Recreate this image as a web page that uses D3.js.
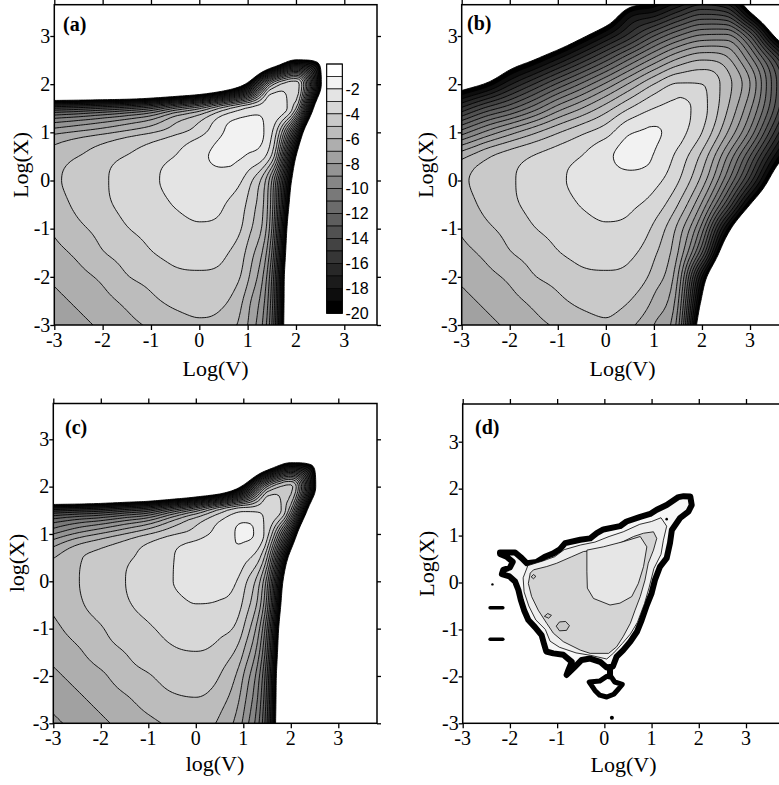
<!DOCTYPE html>
<html>
<head>
<meta charset="utf-8">
<script src="https://cdn.jsdelivr.net/npm/d3@7"></script>
<style>
  body { margin: 0; background: #fff; }
  svg { display: block; }
</style>
</head>
<body>
<svg id="fig" width="779" height="785"></svg>
<script>
// grid nodes (log units), shared by panels a, b, c
const gridNodes = d3.range(-3, 4.01, 0.5);   // -3 .. 4, step 0.5
const levels = d3.range(-20, 0);              // contour levels -20 .. -1
const barTicks = [-2, -4, -6, -8, -10, -12, -14, -16, -18, -20];
const axisTicks = [-3, -2, -1, 0, 1, 2, 3];

// log-density, rows go from log(X) = -3 (first) up to 4 (last),
// columns from log(V) = -3 to 4
const fieldA = [
  [-7.8, -7.3, -6.8, -6.3, -5.85, -5.42, -5.15, -5.45, -7.0, -12, -29, -40, -40, -40, -40],
  [-7.3, -6.8, -6.3, -5.78, -5.2, -4.78, -4.65, -4.85, -6.6, -11.5, -29, -40, -40, -40, -40],
  [-6.8, -6.3, -5.8, -5.06, -4.68, -4.22, -4.14, -4.3, -5.8, -11, -29, -40, -40, -40, -40],
  [-6.3, -5.78, -5.06, -4.6, -4.05, -3.72, -3.62, -3.85, -5.3, -10, -28, -40, -40, -40, -40],
  [-5.85, -5.2, -4.68, -4.05, -3.7, -3.35, -3.13, -3.3, -4.6, -9.0, -27, -40, -40, -40, -40],
  [-5.42, -4.78, -4.22, -3.72, -3.35, -2.95, -2.7, -2.95, -4.2, -8.5, -25, -40, -40, -40, -40],
  [-5.15, -4.65, -4.13, -3.62, -3.15, -2.75, -2.4, -2.5, -3.5, -8.0, -23, -40, -40, -40, -40],
  [-5.55, -5.0, -4.45, -3.95, -3.45, -2.98, -2.25, -1.75, -2.1, -4.2, -20, -38, -40, -40, -40],
  [-7.3, -6.8, -6.3, -5.7, -5.1, -4.3, -3.4, -2.0, -1.6, -2.9, -14, -35, -40, -40, -40],
  [-14, -13.6, -13, -12.3, -11.2, -9.0, -7.2, -4.6, -2.9, -2.3, -5.0, -26, -40, -40, -40],
  [-34, -34, -34, -34, -33, -32, -30, -26, -19, -5.5, -3.5, -19, -40, -40, -40],
  [-40, -40, -40, -40, -40, -40, -38, -36, -34, -27, -19.8, -21.5, -40, -40, -40],
  [-40, -40, -40, -40, -40, -40, -40, -40, -40, -40, -40, -40, -40, -40, -40],
  [-40, -40, -40, -40, -40, -40, -40, -40, -40, -40, -40, -40, -40, -40, -40],
  [-40, -40, -40, -40, -40, -40, -40, -40, -40, -40, -40, -40, -40, -40, -40]
];

const fieldB = [
  [-7.8, -7.3, -6.8, -6.3, -5.85, -5.42, -5.15, -5.8, -7.0, -9.6, -23, -33, -38, -40, -40],
  [-7.3, -6.8, -6.3, -5.78, -5.2, -4.78, -4.65, -5.0, -6.2, -8.8, -20.5, -30, -34, -38, -40],
  [-6.8, -6.3, -5.8, -5.06, -4.68, -4.22, -4.14, -4.35, -5.4, -8.0, -18, -27, -30, -35, -38],
  [-6.3, -5.78, -5.06, -4.6, -4.05, -3.72, -3.62, -3.8, -4.8, -7.0, -13, -22.5, -27, -31, -35],
  [-5.85, -5.2, -4.68, -4.05, -3.7, -3.35, -3.13, -3.25, -4.2, -6.3, -10.5, -18.5, -25, -28, -32],
  [-5.42, -4.78, -4.22, -3.72, -3.35, -2.95, -2.7, -2.85, -3.4, -5.0, -8.2, -13.5, -20, -25, -30],
  [-5.15, -4.65, -4.13, -3.62, -3.15, -2.75, -2.4, -2.4, -2.7, -3.9, -6.4, -10.5, -15.5, -21.5, -28],
  [-6.3, -5.2, -4.5, -3.95, -3.45, -2.98, -2.25, -1.6, -2.05, -3.3, -5.3, -8.8, -13, -18, -23],
  [-10.5, -8.8, -7.4, -6.2, -5.1, -4.2, -3.4, -2.1, -1.9, -2.6, -4.0, -6.8, -10.3, -15, -20],
  [-15.8, -13.8, -12.3, -10.5, -8.5, -7.0, -5.5, -4.0, -3.0, -2.7, -3.6, -5.8, -8.8, -13, -18],
  [-21.5, -19.8, -17.2, -15, -12.8, -10.8, -8.8, -6.8, -5.0, -3.9, -4.0, -5.5, -8.0, -12.5, -17],
  [-27, -25, -22, -20, -17.8, -15.5, -13.2, -10.8, -8.6, -6.8, -6.0, -6.6, -9.5, -14, -19.5],
  [-32, -30, -27.5, -25, -23, -20.5, -18, -15.5, -13, -11, -9.8, -9.7, -13, -20, -26],
  [-37, -35, -32.5, -30, -28, -25.5, -23, -19, -18, -16, -14.5, -15, -20, -26, -32],
  [-40, -40, -37.5, -35, -33, -30.5, -28, -25.5, -23, -21, -19.5, -21, -25, -31, -37]
];

const fieldC = [
  [-8.2, -7.7, -7.2, -6.7, -6.25, -5.82, -5.55, -6.2, -8.2, -14, -32, -40, -40, -40, -40],
  [-7.7, -7.2, -6.7, -6.18, -5.6, -5.18, -5.05, -5.6, -7.6, -13.5, -32, -40, -40, -40, -40],
  [-7.2, -6.7, -6.2, -5.46, -5.08, -4.62, -4.54, -5.0, -7.0, -13, -32, -40, -40, -40, -40],
  [-6.7, -6.18, -5.46, -5.0, -4.45, -4.12, -4.02, -4.4, -6.0, -12, -31, -40, -40, -40, -40],
  [-6.25, -5.6, -5.08, -4.45, -4.1, -3.75, -3.53, -3.7, -5.0, -11, -30, -40, -40, -40, -40],
  [-5.82, -5.18, -4.62, -4.12, -3.75, -3.3, -3.02, -3.1, -4.2, -9.5, -28, -40, -40, -40, -40],
  [-5.55, -5.05, -4.53, -4.02, -3.55, -3.02, -2.7, -2.65, -3.6, -8.5, -26, -40, -40, -40, -40],
  [-6.05, -5.15, -4.65, -4.2, -3.65, -3.05, -2.55, -2.02, -2.6, -6.0, -22, -38, -40, -40, -40],
  [-9.0, -7.8, -6.9, -6.0, -5.05, -4.15, -3.5, -2.6, -1.85, -3.6, -15, -35, -40, -40, -40],
  [-15.5, -15, -14.5, -13.5, -12.5, -10, -7.5, -4.7, -3.2, -3.2, -7.0, -26, -40, -40, -40],
  [-36, -36, -35, -34, -33, -32, -30, -27, -19, -7.0, -4.8, -19, -40, -40, -40],
  [-40, -40, -40, -40, -40, -40, -38, -36, -34, -26, -19.8, -21.5, -40, -40, -40],
  [-40, -40, -40, -40, -40, -40, -40, -40, -40, -40, -40, -40, -40, -40, -40],
  [-40, -40, -40, -40, -40, -40, -40, -40, -40, -40, -40, -40, -40, -40, -40],
  [-40, -40, -40, -40, -40, -40, -40, -40, -40, -40, -40, -40, -40, -40, -40]
];

// panel d: measured histogram, traced as outlines [log(V), log(X)]
const dOutline = [[-2.21,0.64],[-1.89,0.64],[-1.75,0.52],[-1.64,0.41],[-1.43,0.44],[-1.26,0.55],[-1.08,0.62],[-0.94,0.71],[-0.83,0.84],[-0.51,0.91],[-0.30,0.94],[-0.16,1.05],[-0.02,1.13],[0.33,1.20],[0.47,1.30],[0.76,1.40],[0.97,1.46],[1.11,1.55],[1.32,1.65],[1.57,1.82],[1.68,1.84],[1.82,1.83],[1.85,1.65],[1.78,1.51],[1.60,1.37],[1.43,1.12],[1.39,0.84],[1.32,0.52],[1.18,0.34],[1.07,0.05],[1.00,-0.23],[0.90,-0.48],[0.79,-0.80],[0.69,-1.05],[0.55,-1.26],[0.40,-1.44],[0.26,-1.58],[0.18,-1.79],[0.05,-1.81],[-0.09,-1.69],[-0.30,-1.62],[-0.48,-1.65],[-0.62,-1.79],[-0.80,-1.97],[-0.76,-1.86],[-0.69,-1.69],[-0.87,-1.54],[-1.08,-1.51],[-1.23,-1.47],[-1.28,-1.30],[-1.33,-1.12],[-1.47,-0.95],[-1.61,-0.80],[-1.70,-0.59],[-1.77,-0.37],[-1.82,-0.16],[-1.89,0.02],[-2.01,0.13],[-2.17,0.18],[-2.14,0.27],[-2.00,0.32],[-1.94,0.44],[-2.07,0.55],[-2.21,0.61]];
const dMid = [[-1.62,0.36],[-1.3,0.46],[-1.05,0.55],[-0.85,0.7],[-0.5,0.8],[-0.2,0.86],[0.1,0.98],[0.4,1.08],[0.75,1.24],[1.0,1.3],[1.2,1.38],[1.32,1.2],[1.25,0.9],[1.2,0.6],[1.05,0.3],[0.95,-0.1],[0.85,-0.45],[0.7,-0.85],[0.55,-1.1],[0.38,-1.3],[0.2,-1.5],[0.05,-1.63],[-0.3,-1.55],[-0.6,-1.5],[-0.95,-1.38],[-1.15,-1.25],[-1.25,-1.0],[-1.45,-0.8],[-1.6,-0.5],[-1.7,-0.2],[-1.72,0.1]];
const dGrey = [[-1.50,0.27],[-1.22,0.34],[-1.01,0.41],[-0.69,0.55],[-0.44,0.66],[-0.16,0.69],[0.12,0.76],[0.33,0.84],[0.62,0.98],[0.83,1.05],[1.04,1.08],[1.11,0.94],[1.04,0.69],[0.93,0.41],[0.86,0.05],[0.76,-0.30],[0.65,-0.59],[0.55,-0.87],[0.40,-1.15],[0.26,-1.37],[0.09,-1.51],[-0.30,-1.51],[-0.51,-1.44],[-0.87,-1.26],[-1.08,-1.08],[-1.22,-0.87],[-1.40,-0.59],[-1.54,-0.30],[-1.61,-0.02],[-1.57,0.20]];
const dLight = [[-0.37,0.69],[-0.02,0.76],[0.40,0.87],[0.76,0.98],[0.90,0.76],[0.83,0.34],[0.72,-0.02],[0.58,-0.30],[0.33,-0.44],[0.12,-0.48],[-0.23,-0.34],[-0.36,-0.12],[-0.37,0.23]];
const dIslands = [
  [[-1.02,-0.93],[-0.95,-0.84],[-0.82,-0.83],[-0.74,-0.92],[-0.8,-1.02],[-0.95,-1.03]],
  [[-1.27,-0.72],[-1.2,-0.66],[-1.12,-0.7],[-1.18,-0.76]],
  [[-1.55,0.12],[-1.5,0.17],[-1.45,0.13],[-1.5,0.08]]
];
const dRing = [[-0.32,-2.12],[-0.1,-2.1],[0.05,-2.0],[0.15,-2.02],[0.22,-2.12],[0.38,-2.17],[0.3,-2.27],[0.2,-2.38],[0.05,-2.44],[-0.1,-2.4],[-0.2,-2.3]];
const dStalk = [[0.12,-1.82],[0.12,-2.05]];
const dDashes = [
  [[-2.42,-0.54],[-2.15,-0.54]],
  [[-2.42,-1.21],[-2.15,-1.21]]
];
const dDots = [[-2.37,-0.04,1.2],[0.16,-2.88,2],[1.32,1.35,1.3]];

const svg = d3.select("#fig");
const serif = "Liberation Serif";

function grey(t) {
  const k = -t - 1;
  const g = Math.round(255 * (1 - k / 19));
  return `rgb(${g},${g},${g})`;
}

// monotone cubic resampling (Fritsch-Carlson) of one row of nodes
function monoCubic(ys, n) {
  const m = ys.length, d = [], s = new Array(m);
  for (let i = 0; i < m - 1; i++) d.push(ys[i + 1] - ys[i]);
  s[0] = d[0];
  s[m - 1] = d[m - 2];
  for (let i = 1; i < m - 1; i++) s[i] = d[i - 1] * d[i] <= 0 ? 0 : (d[i - 1] + d[i]) / 2;
  for (let i = 0; i < m - 1; i++) {
    if (d[i] === 0) { s[i] = 0; s[i + 1] = 0; continue; }
    const a = s[i] / d[i], b = s[i + 1] / d[i], r = a * a + b * b;
    if (r > 9) {
      const tau = 3 / Math.sqrt(r);
      s[i] = tau * a * d[i];
      s[i + 1] = tau * b * d[i];
    }
  }
  const out = [];
  for (let i = 0; i < m - 1; i++) {
    for (let k = 0; k < n; k++) {
      const t = k / n, t2 = t * t, t3 = t2 * t;
      out.push((2 * t3 - 3 * t2 + 1) * ys[i] + (t3 - 2 * t2 + t) * s[i] +
               (-2 * t3 + 3 * t2) * ys[i + 1] + (t3 - t2) * s[i + 1]);
    }
  }
  out.push(ys[m - 1]);
  return out;
}

function upsample(field, n) {
  const rows = field.map(r => monoCubic(r, n));
  const nx = rows[0].length;
  const cols = d3.range(nx).map(i => monoCubic(rows.map(r => r[i]), n));
  const ny = cols[0].length;
  const values = new Array(nx * ny);
  for (let j = 0; j < ny; j++)
    for (let i = 0; i < nx; i++) values[i + j * nx] = cols[i][j];
  return { nx, ny, values };
}

function panel(cfg) {
  const x = d3.scaleLinear().domain([-3, 3]).range(cfg.xr);
  const y = d3.scaleLinear().domain([-3, 3]).range(cfg.yr);
  const left = cfg.xr[0], bottom = cfg.yr[0], right = cfg.right, top = cfg.top;

  svg.append("clipPath").attr("id", "clip-" + cfg.id)
    .append("rect").attr("x", left).attr("y", top)
    .attr("width", right - left).attr("height", bottom - top);

  const g = svg.append("g");
  const body = g.append("g").attr("clip-path", `url(#clip-${cfg.id})`);

  if (cfg.field) {
    const n = 10, step = (gridNodes[1] - gridNodes[0]) / n;
    const up = upsample(cfg.field, n);
    const proj = d3.geoTransform({
      point(px, py) {
        this.stream.point(x(gridNodes[0] + (px - 0.5) * step), y(gridNodes[0] + (py - 0.5) * step));
      }
    });
    const path = d3.geoPath(proj);
    const cs = d3.contours().size([up.nx, up.ny]).thresholds(levels)(up.values);
    body.selectAll("path.band").data(cs).join("path")
      .attr("class", "band")
      .attr("d", path)
      .attr("fill", d => grey(d.value))
      .attr("stroke", "#000")
      .attr("stroke-width", 0.9);
  }

  if (cfg.drawExtra) cfg.drawExtra(body, x, y);

  // frame
  g.append("rect").attr("x", left).attr("y", top)
    .attr("width", right - left).attr("height", bottom - top)
    .attr("fill", "none").attr("stroke", "#000").attr("stroke-width", 1.5);

  // tick marks from d3 axes, labels written separately below
  const styleAxis = sel => {
    sel.select(".domain").remove();
    sel.selectAll(".tick line").attr("stroke", "#000").attr("stroke-width", 1.3);
    sel.selectAll(".tick text").remove();
  };
  g.append("g").attr("transform", `translate(0,${bottom})`)
    .call(d3.axisBottom(x).tickValues(axisTicks).tickSize(5).tickSizeOuter(0)).call(styleAxis);
  g.append("g").attr("transform", `translate(0,${top})`)
    .call(d3.axisTop(x).tickValues(axisTicks).tickSize(5).tickSizeOuter(0)).call(styleAxis);
  g.append("g").attr("transform", `translate(${left},0)`)
    .call(d3.axisLeft(y).tickValues(axisTicks).tickSize(4).tickSizeOuter(0)).call(styleAxis);
  g.append("g").attr("transform", `translate(${right},0)`)
    .call(d3.axisRight(y).tickValues(axisTicks).tickSize(4).tickSizeOuter(0)).call(styleAxis);

  g.append("g").selectAll("text").data(axisTicks).join("text")
    .attr("x", d => x(d)).attr("y", bottom + 22)
    .attr("text-anchor", "middle")
    .attr("font-family", serif).attr("font-size", 20).attr("fill", "#000")
    .text(d => String(d));
  g.append("g").selectAll("text").data(axisTicks).join("text")
    .attr("x", left - 4).attr("y", d => y(d) + 6.8)
    .attr("text-anchor", "end")
    .attr("font-family", serif).attr("font-size", 20).attr("fill", "#000")
    .text(d => String(d));

  // titles
  g.append("text").attr("x", cfg.xTitle[0]).attr("y", cfg.xTitle[1])
    .attr("text-anchor", "middle").attr("font-family", serif).attr("font-size", 22)
    .text(cfg.xLabel);
  g.append("text").attr("transform", `translate(${cfg.yTitle[0]},${cfg.yTitle[1]}) rotate(-90)`)
    .attr("text-anchor", "middle").attr("font-family", serif).attr("font-size", 22)
    .text(cfg.yLabel);
  g.append("text").attr("x", cfg.tag[0]).attr("y", cfg.tag[1])
    .attr("font-family", serif).attr("font-size", 20).attr("font-weight", "bold")
    .text(cfg.tagText);

  return g;
}

// ---- panel a, with colour bar ----
const gA = panel({
  id: "a", field: fieldA, xr: [54.3, 344.3], yr: [325, 36], right: 377, top: 4.7,
  xLabel: "Log(V)", yLabel: "Log(X)", xTitle: [215.5, 376], yTitle: [28, 165],
  tag: [63, 31], tagText: "(a)"
});

const barY = d3.scaleLinear().domain([0, -20]).range([64, 313.3]);
const bar = gA.append("g");
bar.selectAll("rect.b").data(d3.range(0, 20)).join("rect")
  .attr("class", "b")
  .attr("x", 326.7).attr("width", 15.6)
  .attr("y", k => barY(-k)).attr("height", k => barY(-k - 1) - barY(-k))
  .attr("fill", k => grey(-k - 1))
  .attr("stroke", "#000").attr("stroke-width", 0.7);
bar.append("rect").attr("x", 326.7).attr("y", barY(0)).attr("width", 15.6)
  .attr("height", barY(-20) - barY(0)).attr("fill", "none").attr("stroke", "#000").attr("stroke-width", 1);
bar.selectAll("text").data(barTicks).join("text")
  .attr("x", 345.5).attr("y", t => barY(t) + 5.8)
  .attr("font-family", "Liberation Sans").attr("font-size", 16)
  .text(t => String(t));

// ---- panel b ----
panel({
  id: "b", field: fieldB, xr: [461.7, 750], yr: [325, 36], right: 784, top: 4.7,
  xLabel: "Log(V)", yLabel: "Log(X)", xTitle: [622.5, 376], yTitle: [433, 165],
  tag: [467, 30], tagText: "(b)"
});

// ---- panel c ----
panel({
  id: "c", field: fieldC, xr: [53.3, 338.3], yr: [723.3, 439.3], right: 377, top: 403.5,
  xLabel: "log(V)", yLabel: "log(X)", xTitle: [215, 771], yTitle: [24, 563],
  tag: [65, 434], tagText: "(c)"
});

// ---- panel d ----
panel({
  id: "d", field: null, xr: [462.7, 746], yr: [723.3, 441.7], right: 786, top: 404,
  xLabel: "Log(V)", yLabel: "Log(X)", xTitle: [623.5, 772], yTitle: [434, 563.7],
  tag: [475, 434], tagText: "(d)",
  drawExtra(body, x, y) {
    const line = d3.line().x(d => x(d[0])).y(d => y(d[1])).curve(d3.curveLinearClosed);
    const open = d3.line().x(d => x(d[0])).y(d => y(d[1]));
    body.append("path").attr("d", line(dOutline))
      .attr("fill", "#f7f7f7").attr("stroke", "#000").attr("stroke-width", 6)
      .attr("stroke-linejoin", "round");
    body.append("path").attr("d", line(dMid))
      .attr("fill", "#eeeeee").attr("stroke", "#000").attr("stroke-width", 0.8);
    body.append("path").attr("d", line(dGrey))
      .attr("fill", "#d4d4d4").attr("stroke", "#000").attr("stroke-width", 0.8);
    body.append("path").attr("d", line(dLight))
      .attr("fill", "#e6e6e6").attr("stroke", "#000").attr("stroke-width", 0.8);
    body.selectAll("path.isl").data(dIslands).join("path").attr("class", "isl")
      .attr("d", d => line(d)).attr("fill", "#c8c8c8").attr("stroke", "#000").attr("stroke-width", 0.8);
    body.append("path").attr("d", open(dStalk)).attr("stroke", "#000").attr("stroke-width", 6)
      .attr("fill", "none");
    body.append("path").attr("d", line(dRing))
      .attr("fill", "#fff").attr("stroke", "#000").attr("stroke-width", 5).attr("stroke-linejoin", "round");
    body.selectAll("path.dash").data(dDashes).join("path").attr("class", "dash")
      .attr("d", d => open(d)).attr("stroke", "#000").attr("stroke-width", 3.5)
      .attr("stroke-linecap", "round").attr("fill", "none");
    body.selectAll("circle.dot").data(dDots).join("circle").attr("class", "dot")
      .attr("cx", d => x(d[0])).attr("cy", d => y(d[1])).attr("r", d => d[2]).attr("fill", "#000");
  }
});
</script>
</body>
</html>
